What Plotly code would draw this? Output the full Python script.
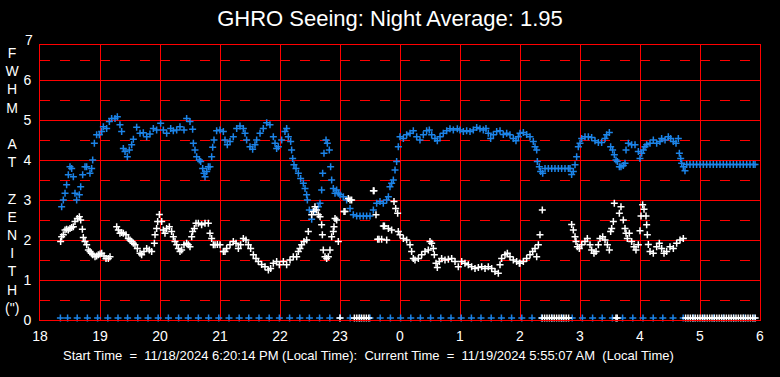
import plotly.graph_objects as go

# ---------------- data ----------------
TITLE = "GHRO Seeing: Night Average: 1.95"
FOOTER = ("Start Time\u00a0 =\u00a0 11/18/2024 6:20:14 PM (Local Time):\u00a0 Current Time\u00a0 =\u00a0 "
          "11/19/2024 5:55:07 AM\u00a0 (Local Time)")
Y_LABEL_LETTERS = ["F", "W", "H", "M", "\u00a0", "A", "T", "\u00a0",
                   "Z", "E", "N", "I", "T", "H", '(")']

hour_ticks = [18, 19, 20, 21, 22, 23, 24, 25, 26, 27, 28, 29, 30]
hour_labels = ["18", "19", "20", "21", "22", "23", "0", "1", "2", "3", "4", "5", "6"]
y_ticks = [0, 1, 2, 3, 4, 5, 6]
y_top_label = 7

# blue series (hours since midnight of 11/18, FWHM arcsec)
blue_t = [18.361, 18.389, 18.417, 18.444, 18.472, 18.5, 18.528, 18.556, 18.583, 18.611,
          18.656, 18.678, 18.711, 18.75, 18.778, 18.833, 18.861, 18.878, 18.906, 18.944,
          18.989, 19.028, 19.056, 19.111, 19.156, 19.194, 19.25, 19.289, 19.333, 19.361,
          19.389, 19.417, 19.456, 19.489, 19.528, 19.556, 19.611, 19.667, 19.722, 19.778,
          19.833, 19.889, 19.944, 20.011, 20.056, 20.111, 20.178, 20.222, 20.278, 20.333,
          20.4, 20.444, 20.5, 20.544, 20.556, 20.583, 20.611, 20.656, 20.678, 20.711,
          20.733, 20.75, 20.778, 20.806, 20.833, 20.861, 20.878, 20.9, 20.944, 21.0,
          21.056, 21.083, 21.122, 21.167, 21.222, 21.278, 21.333, 21.389, 21.417, 21.444,
          21.5, 21.544, 21.583, 21.611, 21.667, 21.722, 21.778, 21.833, 21.889, 21.917,
          21.944, 21.972, 22.028, 22.083, 22.111, 22.139, 22.178, 22.194, 22.211, 22.233,
          22.267, 22.306, 22.344, 22.389, 22.417, 22.444, 22.456, 22.489, 22.528, 22.583,
          22.639, 22.667, 22.694, 22.711, 22.733, 22.767, 22.789, 22.822, 22.844, 22.861,
          22.889, 22.917, 22.944, 22.972, 23.0, 23.056, 23.111, 23.167, 23.222, 23.278,
          23.333, 23.389, 23.444, 23.5, 23.556, 23.611, 23.667, 23.722, 23.778, 23.806,
          23.833, 23.861, 23.889, 23.917, 23.944, 23.972,
          24.0, 24.056, 24.111, 24.167, 24.222, 24.278, 24.333, 24.389, 24.444, 24.489,
          24.528, 24.583, 24.622, 24.667, 24.722, 24.778, 24.833, 24.889, 24.956, 25.0,
          25.056, 25.111, 25.167, 25.222, 25.278, 25.333, 25.389, 25.433, 25.472, 25.511,
          25.556, 25.611, 25.667, 25.722, 25.778, 25.833, 25.889, 25.933, 25.972,
          26.0, 26.056, 26.111, 26.167, 26.222, 26.25, 26.278, 26.289, 26.322, 26.344,
          26.378, 26.417, 26.472, 26.528, 26.583, 26.639, 26.694, 26.75, 26.806, 26.833,
          26.861, 26.889, 26.917, 26.944, 26.972, 27.0, 27.028, 27.083, 27.139, 27.194,
          27.25, 27.306, 27.361, 27.417, 27.444, 27.489, 27.511, 27.544, 27.572, 27.6,
          27.622, 27.656, 27.683, 27.722, 27.75, 27.767, 27.806, 27.861, 27.917, 27.972,
          28.0, 28.028, 28.056, 28.083, 28.111, 28.167, 28.222, 28.278, 28.333, 28.361,
          28.417, 28.472, 28.511, 28.556, 28.6, 28.639, 28.656, 28.678, 28.694, 28.722,
          28.75, 28.778, 28.833, 28.889, 28.944, 29.0, 29.056, 29.111, 29.167, 29.222,
          29.278, 29.333, 29.389, 29.444, 29.5, 29.556, 29.611, 29.667, 29.722, 29.778,
          29.833, 29.889, 29.917]
blue_v = [2.83, 3.0, 3.17, 3.38, 3.63, 3.83, 3.79, 3.58, 3.17, 3.0,
          3.13, 3.33, 3.63, 3.83, 3.83, 3.67, 3.79, 4.0, 4.42, 4.63,
          4.63, 4.71, 4.83, 4.79, 4.96, 5.04, 5.04, 5.08, 4.88, 4.71,
          4.29, 4.21, 4.08, 4.25, 4.38, 4.52, 4.82, 4.67, 4.68, 4.58,
          4.65, 4.79, 4.75, 4.92, 4.75, 4.67, 4.79, 4.73, 4.75, 4.83,
          4.75, 5.04, 4.96, 4.77, 4.42, 4.25, 4.08, 4.0, 3.96, 3.79,
          3.67, 3.58, 3.71, 3.83, 3.83, 4.08, 4.32, 4.5, 4.73, 4.75,
          4.71, 4.5, 4.38, 4.46, 4.58, 4.79, 4.85, 4.79, 4.67, 4.5,
          4.33, 4.27, 4.38, 4.5, 4.67, 4.79, 4.93, 4.88, 4.58, 4.42,
          4.29, 4.33, 4.5, 4.71, 4.79, 4.58, 4.46, 4.25, 4.04, 3.88,
          3.79, 3.67, 3.54, 3.42, 3.29, 3.13, 3.0, 2.75, 2.52, 2.75,
          2.83, 2.92, 3.25, 3.67, 4.17, 4.5, 4.42, 4.25, 3.83, 3.5,
          3.29, 3.17, 3.25, 3.17, 3.13, 3.08, 3.0, 2.79, 2.63, 2.6,
          2.6, 2.6, 2.6, 2.6, 2.75, 2.92, 2.96, 2.92, 3.0, 3.08,
          3.33, 3.42, 3.5, 3.75, 3.96, 4.33,
          4.58, 4.54, 4.63, 4.67, 4.73, 4.58, 4.5, 4.63, 4.73, 4.75,
          4.63, 4.54, 4.48, 4.58, 4.67, 4.73, 4.78, 4.75, 4.78, 4.75,
          4.71, 4.73, 4.71, 4.75, 4.81, 4.78, 4.75, 4.79, 4.67, 4.54,
          4.63, 4.71, 4.73, 4.64, 4.67, 4.63, 4.54, 4.48, 4.58,
          4.67, 4.69, 4.64, 4.58, 4.46, 4.33, 4.25, 3.96, 3.83, 3.71,
          3.67, 3.79, 3.79, 3.79, 3.79, 3.79, 3.79, 3.79, 3.79, 3.79,
          3.64, 3.71, 3.88, 4.08, 4.33, 4.42, 4.54, 4.58, 4.58, 4.56,
          4.48, 4.44, 4.44, 4.54, 4.63, 4.69, 4.33, 4.25, 4.13, 4.0,
          3.96, 3.83, 3.83, 3.86, 3.92, 4.25, 4.42, 4.38, 4.38, 4.21,
          4.04, 4.17, 4.25, 4.33, 4.38, 4.42, 4.5, 4.42, 4.46, 4.54,
          4.5, 4.58, 4.54, 4.46, 4.42, 4.54, 4.17, 4.04, 3.92, 3.83,
          3.73, 3.89, 3.89, 3.89, 3.89, 3.89, 3.89, 3.89, 3.89, 3.89,
          3.89, 3.89, 3.89, 3.89, 3.89, 3.89, 3.89, 3.89, 3.89, 3.89,
          3.89, 3.89, 3.89]

# white series
white_t = [18.344, 18.361, 18.389, 18.417, 18.444, 18.472, 18.5, 18.528, 18.556, 18.583,
           18.622, 18.656, 18.678, 18.706, 18.722, 18.75, 18.778, 18.806, 18.833, 18.856,
           18.878, 18.917, 18.944, 18.972, 19.0, 19.028, 19.067, 19.1, 19.139, 19.167,
           19.278, 19.306, 19.333, 19.361, 19.389, 19.433, 19.472, 19.5, 19.528, 19.556,
           19.583, 19.622, 19.667, 19.694, 19.733, 19.778, 19.822, 19.861, 19.906, 19.917,
           19.944, 19.961, 19.989, 20.028, 20.056, 20.083, 20.111, 20.156, 20.194, 20.222,
           20.25, 20.278, 20.306, 20.333, 20.361, 20.4, 20.444, 20.472, 20.5, 20.528,
           20.544, 20.572, 20.6, 20.639, 20.694, 20.75, 20.806, 20.833, 20.861, 20.889,
           20.917, 20.956, 21.0, 21.056, 21.083, 21.111, 21.167, 21.222, 21.267, 21.306,
           21.344, 21.389, 21.433, 21.472, 21.511, 21.556, 21.6, 21.639, 21.694, 21.75,
           21.806, 21.844, 21.889, 21.944, 21.989, 22.056, 22.111, 22.167, 22.222, 22.278,
           22.306, 22.333, 22.361, 22.4, 22.444, 22.472, 22.528, 22.556, 22.583, 22.611,
           22.639, 22.667, 22.694, 22.706, 22.722, 22.75, 22.778, 22.806, 22.833, 22.861,
           22.889, 22.9, 22.917, 22.944, 22.972, 23.067, 23.083, 23.139, 23.167, 23.194,
           23.556, 23.567, 23.6, 23.628, 23.65, 23.694, 23.722, 23.74, 23.778, 23.806,
           23.861, 23.9, 23.928, 23.961, 23.972,
           24.0, 24.056, 24.111, 24.167, 24.194, 24.222, 24.25, 24.306, 24.361, 24.417,
           24.472, 24.5, 24.528, 24.556, 24.572, 24.6, 24.622, 24.656, 24.694, 24.75,
           24.806, 24.861, 24.917, 24.972, 25.028, 25.083, 25.139, 25.194, 25.25, 25.306,
           25.361, 25.417, 25.472, 25.528, 25.583, 25.639, 25.667, 25.694, 25.75, 25.789,
           25.833, 25.889, 25.944, 25.989,
           26.0, 26.056, 26.111, 26.167, 26.211, 26.25, 26.278, 26.306, 26.333, 26.372,
           26.861, 26.889, 26.917, 26.933, 26.956, 26.989, 27.028, 27.083, 27.122, 27.167,
           27.194, 27.233, 27.267, 27.306, 27.333, 27.378, 27.417, 27.456, 27.489, 27.511,
           27.528, 27.556, 27.572, 27.656, 27.683, 27.722, 27.75, 27.767, 27.789, 27.822,
           27.861, 27.9, 27.933, 27.972,
           28.0, 28.017, 28.044, 28.067, 28.1, 28.111, 28.122, 28.139, 28.167, 28.222,
           28.278, 28.322, 28.361, 28.4, 28.444, 28.5, 28.556, 28.611, 28.667, 28.722]
white_v = [1.96, 2.08, 2.13, 2.25, 2.27, 2.25, 2.29, 2.31, 2.33, 2.46,
           2.54, 2.58, 2.5, 2.27, 2.06, 1.96, 1.88, 1.75, 1.71, 1.67,
           1.63, 1.58, 1.6, 1.63, 1.65, 1.67, 1.6, 1.54, 1.54, 1.58,
           2.33, 2.25, 2.17, 2.19, 2.17, 2.13, 2.04, 2.0, 1.96, 1.92,
           1.88, 1.79, 1.67, 1.63, 1.71, 1.79, 1.75, 1.71, 1.92, 2.13,
           2.29, 2.46, 2.64, 2.46, 2.25, 2.17, 2.29, 2.33, 2.21, 2.08,
           1.96, 1.88, 1.79, 1.71, 1.75, 1.88, 1.92, 1.88, 1.83, 2.08,
           2.21, 2.29, 2.42, 2.42, 2.38, 2.42, 2.42, 2.17, 2.04, 1.88,
           1.88, 1.89, 1.88, 1.71, 1.71, 1.79, 1.88, 1.96, 1.92, 1.79,
           1.88, 2.04, 2.0, 1.88, 1.79, 1.63, 1.54, 1.46, 1.39, 1.33,
           1.25, 1.29, 1.42, 1.46, 1.38, 1.46, 1.38, 1.5, 1.58, 1.58,
           1.71, 1.79, 1.88, 1.96, 2.0, 2.21, 2.63, 2.71, 2.83, 2.75,
           2.63, 2.58, 2.38, 2.13, 1.75, 1.58, 1.54, 1.58, 1.75, 2.08,
           2.21, 2.33, 2.54, 2.5, 1.96, 2.71, 2.71, 3.04, 3.0, 3.0,
           3.23, 3.23, 2.63, 2.02, 2.02, 2.02, 2.35, 2.35, 2.0, 2.29,
           2.25, 2.96, 2.79, 2.67, 2.21,
           2.13, 2.04, 2.0, 1.88, 1.71, 1.54, 1.5, 1.54, 1.63, 1.71,
           1.75, 1.96, 1.92, 1.79, 1.63, 1.42, 1.31, 1.46, 1.54, 1.5,
           1.52, 1.54, 1.46, 1.33, 1.46, 1.42, 1.38, 1.33, 1.29, 1.31,
           1.33, 1.29, 1.33, 1.29, 1.21, 1.17, 1.38, 1.54, 1.63, 1.67,
           1.58, 1.5, 1.46, 1.42,
           1.42, 1.46, 1.54, 1.63, 1.71, 1.79, 1.58, 1.88, 2.13, 2.75,
           2.39, 2.25, 2.08, 1.96, 1.83, 1.79, 1.88, 1.96, 2.04, 1.88,
           1.75, 1.67, 1.71, 1.88, 2.04, 2.08, 2.0, 1.88, 1.75, 2.21,
           2.29, 2.46, 2.92, 2.67, 2.83, 2.5, 2.29, 2.17, 2.04, 2.17,
           1.96, 1.83, 1.75, 1.88,
           2.23, 2.6, 2.88, 2.77, 2.6, 2.38, 2.13, 1.89, 1.71, 1.67,
           1.83, 1.92, 1.79, 1.67, 1.71, 1.83, 1.79, 1.92, 2.0, 2.04]

# readings clipped above the top of the scale
white_high_t = [19.21, 19.24]
white_high_v = [6.95, 6.95]

# zero readings (no measurement) along the bottom
zero_blue_t = [18.34, 18.46, 18.62, 18.79, 18.96, 19.13, 19.30, 19.46, 19.63, 19.80,
               19.97, 20.14, 20.31, 20.47, 20.64, 20.81, 20.98, 21.15, 21.32, 21.48,
               21.65, 21.82, 21.99, 22.16, 22.33, 22.49, 22.66, 22.83, 23.00, 23.17,
               23.33, 23.50, 23.67, 23.84, 24.01, 24.18, 24.34, 24.51, 24.68, 24.85,
               25.02, 25.19, 25.35, 25.52, 25.69, 25.86, 26.03, 26.20, 26.36, 26.53,
               26.70, 26.87, 27.04, 27.21, 27.37, 27.54, 27.71, 27.88, 28.05, 28.22,
               28.38, 28.55, 28.72, 28.89, 29.06, 29.23, 29.39, 29.56, 29.73, 29.90]
zero_blue_v = [0.05] * len(zero_blue_t)

zero_white_t = [23.0, 23.24, 23.28, 23.32, 23.36, 23.40, 23.44, 23.48,
                26.37, 26.41, 26.45, 26.49, 26.53, 26.57, 26.61, 26.65, 26.69, 26.73,
                26.77, 26.81, 27.60, 27.62,
                28.76, 28.80, 28.84, 28.88, 28.92, 28.96, 29.00, 29.04, 29.08, 29.12,
                29.16, 29.20, 29.24, 29.28, 29.32, 29.36, 29.40, 29.44, 29.48, 29.52,
                29.56, 29.60, 29.64, 29.68, 29.72, 29.76, 29.80, 29.84, 29.88, 29.92]
zero_white_v = [0.05] * len(zero_white_t)

# ---------------- style ----------------
FONT = "Liberation Sans, Arial, sans-serif"
BLUE = "#1c84e8"
WHITE = "#ffffff"
RED = "#ff0000"
W, H = 780, 377
M_L, M_R, M_T, M_B = 40, 20, 45, 57
Y_MAX = 6.875

def plus(color):
    return dict(symbol="cross-thin", size=5, color=color,
                line=dict(width=1.5, color=color))

fig = go.Figure()
fig.add_trace(go.Scatter(x=zero_blue_t, y=zero_blue_v, mode="markers",
                         marker=plus(BLUE), cliponaxis=False, hoverinfo="skip"))
fig.add_trace(go.Scatter(x=blue_t, y=blue_v, mode="markers", marker=plus(BLUE),
                         cliponaxis=False))
fig.add_trace(go.Scatter(x=white_t, y=white_v, mode="markers", marker=plus(WHITE),
                         cliponaxis=False))
fig.add_trace(go.Scatter(x=zero_white_t, y=zero_white_v, mode="markers",
                         marker=plus(WHITE), cliponaxis=False, hoverinfo="skip"))
fig.add_trace(go.Scatter(x=white_high_t, y=white_high_v, mode="markers",
                         marker=plus(WHITE), cliponaxis=False, hoverinfo="skip"))

fig.update_layout(
    width=W, height=H,
    margin=dict(l=M_L, r=M_R, t=M_T, b=M_B, pad=0),
    paper_bgcolor="black", plot_bgcolor="black",
    showlegend=False,
    font=dict(family=FONT, color="white", size=14),
    title=dict(text=TITLE, x=0.5, xref="container", xanchor="center",
               y=1 - 18 / H, yref="container", yanchor="middle",
               font=dict(family=FONT, size=22, color="white")),
    xaxis=dict(range=[hour_ticks[0], hour_ticks[-1]], tickvals=hour_ticks,
               ticktext=hour_labels, showgrid=True, gridcolor=RED, gridwidth=1,
               zeroline=False, showline=True, linecolor=RED, linewidth=1, mirror=True,
               ticks="", ticklabelstandoff=3,
               tickfont=dict(family=FONT, size=14, color="white")),
    yaxis=dict(range=[0, Y_MAX], tickvals=y_ticks, showgrid=True, gridcolor=RED,
               gridwidth=1, zeroline=False, showline=True, linecolor=RED, linewidth=1,
               mirror=True, ticks="", ticklabelstandoff=5,
               tickfont=dict(family=FONT, size=14, color="white"),
               minor=dict(tick0=0.5, dtick=1, showgrid=True, gridcolor=RED,
                          gridwidth=1, griddash="10px,10px", ticks="")),
)

annotations = [
    dict(text=str(y_top_label), xref="paper", yref="paper", x=0,
         y=y_top_label / Y_MAX, xanchor="right", yanchor="middle", xshift=-5,
         showarrow=False, font=dict(family=FONT, size=14, color="white")),
    dict(text="<br>".join(Y_LABEL_LETTERS), xref="paper", yref="paper",
         x=0, xshift=-28, y=0.509, xanchor="center", yanchor="middle",
         align="center", showarrow=False,
         font=dict(family=FONT, size=14, color="white")),
    dict(text=FOOTER, xref="paper", yref="paper", x=(368 - M_L) / (W - M_L - M_R),
         y=-35 / (H - M_T - M_B), xanchor="center", yanchor="middle",
         showarrow=False, font=dict(family=FONT, size=13, color="white")),
]
fig.update_layout(annotations=annotations)

fig.write_html("out.html", config={"displayModeBar": False},
               post_script="document.body.style.margin='0';document.body.style.padding='0';")
